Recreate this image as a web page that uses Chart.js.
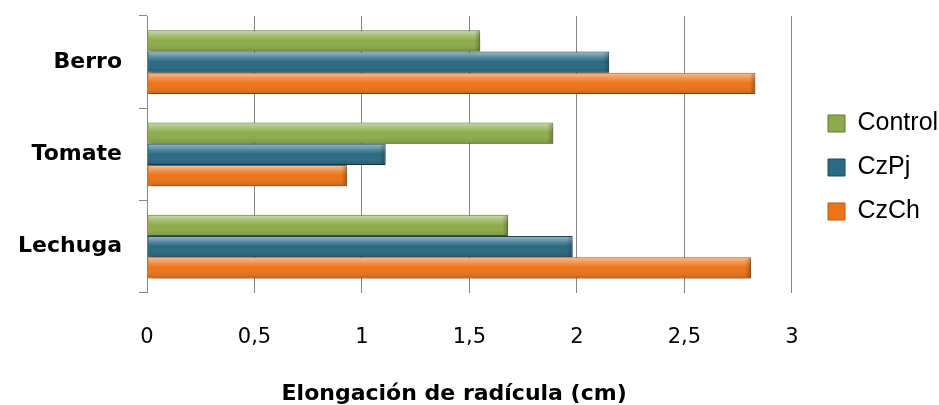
<!DOCTYPE html>
<html>
<head>
<meta charset="utf-8">
<script src="https://cdn.jsdelivr.net/npm/chart.js@4.4.1/dist/chart.umd.min.js"></script>
<style>
  html, body { margin: 0; padding: 0; background: #fff; }
  #wrap { width: 939px; height: 405px; }
</style>
</head>
<body>
<div id="wrap"><canvas id="grafico" width="939" height="405"></canvas></div>
<script>
// datos (cm)
var CATEGORIAS = ["Berro", "Tomate", "Lechuga"];
var CONTROL = [1.55, 1.89, 1.68];
var CZPJ = [2.15, 1.11, 1.98];
var CZCH = [2.83, 0.93, 2.81];
var X_MIN = 0, X_MAX = 3, X_PASO = 0.5;

// sombra + brillo tipo Excel sobre las barras
var efectoBarras = {
  id: "efectoBarras",
  beforeDatasetsDraw: function (chart) {
    var ctx = chart.ctx;
    ctx.save();
    ctx.shadowColor = "rgba(0,0,0,0.35)";
    ctx.shadowBlur = 4;
    ctx.shadowOffsetX = 2;
    ctx.shadowOffsetY = 3;
  },
  afterDatasetsDraw: function (chart) {
    var ctx = chart.ctx;
    ctx.restore();
    chart.data.datasets.forEach(function (ds, di) {
      chart.getDatasetMeta(di).data.forEach(function (bar) {
        var p = bar.getProps(["x", "y", "base", "height"], true);
        var top = p.y - p.height / 2, h = p.height, left = p.base, w = p.x - p.base;
        if (w <= 4) return;
        var g = ctx.createLinearGradient(0, top, 0, top + h);
        g.addColorStop(0, "rgba(255,255,255,0.55)");
        g.addColorStop(0.3, "rgba(255,255,255,0.18)");
        g.addColorStop(0.5, "rgba(255,255,255,0)");
        g.addColorStop(1, "rgba(0,0,0,0.15)");
        ctx.fillStyle = g;
        ctx.fillRect(left + 1, top + 1, w - 2, h - 2);
        // punta biselada
        var gx = ctx.createLinearGradient(p.x - 6, 0, p.x, 0);
        gx.addColorStop(0, "rgba(0,0,0,0)");
        gx.addColorStop(1, "rgba(0,0,0,0.25)");
        ctx.fillStyle = gx;
        ctx.fillRect(p.x - 6, top + 1, 5, h - 2);
      });
    });
  },
  afterLayout: function (chart) {
    // leyenda a la derecha, alineada como en el original
    var lg = chart.legend;
    if (!lg) return;
    var w = lg.width, h = lg.height;
    lg.left = 809; lg.right = lg.left + w;
    lg.top = 92; lg.bottom = lg.top + h;
  }
};

function formatoComa(v) { return String(v).replace(".", ","); }

new Chart(document.getElementById("grafico"), {
  type: "bar",
  data: {
    labels: CATEGORIAS,
    datasets: [
      { label: "Control", data: CONTROL, backgroundColor: "#8cac4c", borderColor: "#5f7a2e", borderWidth: 1 },
      { label: "CzPj", data: CZPJ, backgroundColor: "#2a6a83", borderColor: "#1b4a5c", borderWidth: 1 },
      { label: "CzCh", data: CZCH, backgroundColor: "#ec7419", borderColor: "#b55a10", borderWidth: 1 }
    ]
  },
  options: {
    indexAxis: "y",
    responsive: false,
    animation: false,
    devicePixelRatio: 1,
    layout: { padding: { top: 16, left: 0, right: 8, bottom: 0 } },
    datasets: { bar: { categoryPercentage: 0.69, barPercentage: 1 } },
    plugins: {
      tooltip: { enabled: false },
      legend: {
        position: "right",
        align: "start",
        fullSize: false,
        labels: {
          color: "#000",
          font: { family: "'Liberation Sans', Arial, sans-serif", size: 25 },
          boxWidth: 17, boxHeight: 17, padding: 19
        }
      }
    },
    scales: {
      x: {
        min: X_MIN, max: X_MAX,
        grid: { color: "#868686", lineWidth: 1, drawTicks: false },
        border: { display: false },
        ticks: {
          stepSize: X_PASO, padding: 32, color: "#000",
          font: { family: "'DejaVu Sans', Verdana, sans-serif", size: 21 },
          callback: function (v) { return formatoComa(v); }
        },
        title: {
          display: true, text: "Elongación de radícula (cm)    ", color: "#000",
          font: { family: "'DejaVu Sans', Verdana, sans-serif", size: 22, weight: "bold", lineHeight: 1 },
          padding: { top: 1, bottom: 0 }
        }
      },
      y: {
        grid: { display: true, drawOnChartArea: false, drawTicks: true, tickLength: 8, color: "#868686", offset: true },
        border: { display: true, color: "#868686", width: 1 },
        ticks: {
          padding: 17, color: "#000",
          font: { family: "'DejaVu Sans', Verdana, sans-serif", size: 22, weight: "bold" }
        },
        afterFit: function (s) { s.width = 147; s.paddingTop = 0; s.paddingBottom = 0; }
      }
    }
  },
  plugins: [efectoBarras]
});
</script>
</body>
</html>
